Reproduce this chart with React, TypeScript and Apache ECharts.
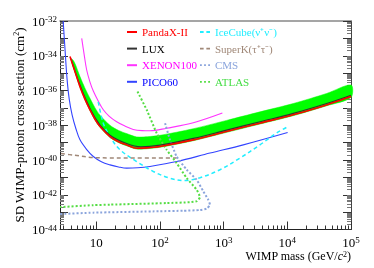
import React, { useEffect, useRef } from 'react';
import * as echarts from 'echarts';

const FONT = '"Liberation Serif", "Times New Roman", serif';

// log10(mass / GeV) and log10(sigma / cm^2)
const pandaxMass = [0.587, 0.66, 0.744, 0.82, 0.901, 0.98, 1.058, 1.215, 1.35, 1.477, 1.634, 1.8, 2.0, 2.523, 3.047, 3.57, 4.093, 4.617, 5.0];
const pandaxSigma = [-34.05, -34.85, -35.78, -36.48, -37.11, -37.66, -38.07, -38.65, -38.95, -39.13, -39.32, -39.3, -39.22, -38.84, -38.36, -37.88, -37.4, -36.83, -36.35];

const bandMass = [0.62, 0.66, 0.744, 0.82, 0.901, 0.98, 1.058, 1.215, 1.35, 1.477, 1.634, 1.8, 2.0, 2.523, 3.047, 3.57, 4.093, 4.617, 5.0];
const bandLow = [-34.45, -34.9, -35.83, -36.53, -37.16, -37.71, -38.12, -38.7, -39.0, -39.18, -39.37, -39.35, -39.27, -38.89, -38.41, -37.93, -37.45, -36.88, -36.4];
const bandHigh = [-34.2, -34.4, -35.2, -35.85, -36.45, -37.0, -37.42, -38.0, -38.3, -38.48, -38.67, -38.66, -38.58, -38.2, -37.72, -37.23, -36.75, -36.17, -35.68];

const luxMass = [0.6, 0.744, 0.901, 1.058, 1.215, 1.477, 1.7, 2.0, 2.523, 3.047, 3.57, 4.093, 4.617, 5.0];
const luxSigma = [-34.15, -35.7, -37.03, -37.99, -38.57, -39.05, -39.24, -39.14, -38.76, -38.28, -37.8, -37.32, -36.75, -36.27];

const xenonMass = [0.771, 0.81, 0.849, 0.9, 0.953, 1.03, 1.11, 1.2, 1.32, 1.45, 1.58, 1.72, 1.843, 2.105, 2.523, 2.98];
const xenonSigma = [-33.0, -33.95, -34.82, -35.5, -36.03, -36.6, -37.11, -37.47, -37.8, -38.05, -38.24, -38.31, -38.32, -38.17, -37.86, -37.3];

const picoMass = [0.48, 0.51, 0.54, 0.575, 0.62, 0.68, 0.744, 0.85, 0.953, 1.08, 1.215, 1.35, 1.477, 1.65, 1.843, 2.262, 2.786, 3.308, 4.005];
const picoSigma = [-32.0, -33.7, -35.3, -36.5, -37.4, -38.2, -38.84, -39.4, -39.8, -40.1, -40.28, -40.4, -40.47, -40.45, -40.37, -40.09, -39.6, -39.13, -38.42];

const iceMass = [1.031, 1.11, 1.215, 1.372, 1.634, 1.895, 2.157, 2.39, 2.628, 2.942, 3.256, 3.57, 3.832, 4.005];
const iceSigma = [-36.66, -37.88, -38.65, -39.41, -40.09, -40.66, -41.05, -41.18, -41.02, -40.56, -39.89, -39.13, -38.45, -38.09];

const superkMass = [0.446, 0.666, 0.953, 1.2, 1.477, 2.262];
const superkSigma = [-39.63, -39.73, -39.86, -39.88, -39.89, -39.89];

const cmsMass = [2.08, 2.157, 2.262, 2.419, 2.576, 2.68, 2.758, 2.785, 2.733, 2.628, 2.366, 2.0, 0.953, 0.43];
const cmsSigma = [-37.88, -38.84, -39.8, -40.56, -41.14, -41.8, -42.29, -42.57, -42.8, -42.88, -42.92, -42.95, -43.03, -43.11];

const atlasMass = [1.647, 1.791, 1.948, 2.105, 2.262, 2.419, 2.576, 2.628, 2.581, 2.471, 2.105, 1.215, 0.953, 0.43];
const atlasSigma = [-36.06, -37.11, -38.45, -39.41, -40.18, -41.04, -41.71, -42.14, -42.37, -42.43, -42.48, -42.57, -42.6, -42.71];

// axes (log10 space)
const X_MIN = 0.43;
const X_MAX = 5;
const Y_MIN = -44;
const Y_MAX = -32;
const xMajor = [1, 2, 3, 4, 5];
const yMajor = [-44, -43, -42, -41, -40, -39, -38, -37, -36, -35, -34, -33, -32];
const yLabels = [-44, -42, -40, -38, -36, -34, -32];

const minorOf = (from: number, to: number, lo: number, hi: number) => {
  const out: number[] = [];
  for (let d = from; d < to; d++) {
    for (let k = 2; k <= 9; k++) {
      const v = d + Math.log10(k);
      if (v > lo && v < hi) out.push(v);
    }
  }
  return out;
};
const xMinor = minorOf(0, 5, X_MIN, X_MAX);
const yMinor = minorOf(-44, -32, Y_MIN, Y_MAX);

const zip = (a: number[], b: number[]) => a.map((v, i) => [v, b[i]]);

const rich = {
  b: { fontSize: 13, fontFamily: FONT, color: '#000', lineHeight: 13 },
  s: { fontSize: 9, fontFamily: FONT, color: '#000', lineHeight: 9, verticalAlign: 'top' },
};

const ICON_SOLID = 'rect';
const ICON_DASH = 'path://M0,0h4v2h-4z M7,0h4v2h-4z';
const ICON_DOT = 'path://M0,0h2v2h-2z M4.5,0h2v2h-2z M9,0h2v2h-2z';

export default function App() {
  const ref = useRef<HTMLDivElement>(null);
  useEffect(() => {
    const chart = echarts.init(ref.current!, null, { renderer: 'svg' });
    const tickColor = '#333';
    const xBase = { type: 'value', min: X_MIN, max: X_MAX, splitLine: { show: false }, gridIndex: 0 };
    const yBase = { type: 'value', min: Y_MIN, max: Y_MAX, splitLine: { show: false }, gridIndex: 0 };
    const line = (name: string, m: number[], s: number[], color: string, width: number, type: any, z = 3, smooth: any = 0.35) => ({
      name,
      type: 'line',
      data: zip(m, s),
      symbol: 'none',
      smooth,
      z,
      lineStyle: { color, width, type },
      itemStyle: { color },
    });
    const legendBase = {
      orient: 'vertical',
      top: 25,
      padding: 0,
      itemWidth: 10,
      itemHeight: 2,
      itemGap: 2.6,
      selectedMode: false,
      itemStyle: { borderWidth: 0 },
      lineStyle: { width: 0 },
      textStyle: { fontFamily: FONT, fontSize: 11, lineHeight: 14 },
    };
    const option: any = {
      animation: false,
      grid: { left: 60, top: 21, width: 291, height: 208.5 },
      xAxis: [
        {
          ...xBase,
          position: 'bottom',
          axisLine: { show: true, lineStyle: { color: '#222', width: 1 } },
          axisTick: { show: true, inside: true, length: 8, customValues: xMajor, lineStyle: { color: tickColor } },
          axisLabel: {
            customValues: xMajor,
            margin: 6,
            formatter: (v: number) => {
              const n = Math.round(v);
              return n === 1 ? '{b|10}' : `{b|10}{s|${n}}`;
            },
            rich,
          },
        },
        {
          ...xBase,
          position: 'bottom',
          axisLine: { show: false },
          axisTick: { show: true, inside: true, length: 4, customValues: xMinor, lineStyle: { color: tickColor } },
          axisLabel: { show: false },
        },
        {
          ...xBase,
          position: 'top',
          axisLine: { show: true, lineStyle: { color: '#888', width: 1.5 } },
          axisTick: { show: false },
          axisLabel: { show: false },
        },
      ],
      yAxis: [
        {
          ...yBase,
          position: 'left',
          axisLine: { show: true, lineStyle: { color: '#222', width: 1 } },
          axisTick: { show: true, inside: true, length: 8, customValues: yMajor, lineStyle: { color: tickColor } },
          axisLabel: {
            customValues: yLabels,
            margin: 3,
            formatter: (v: number) => `{b|10}{s|${Math.round(v)}}`,
            rich,
          },
        },
        {
          ...yBase,
          position: 'left',
          axisLine: { show: false },
          axisTick: { show: true, inside: true, length: 4, customValues: yMinor, lineStyle: { color: '#777' } },
          axisLabel: { show: false },
        },
        {
          ...yBase,
          position: 'right',
          axisLine: { show: true, lineStyle: { color: '#444', width: 1 } },
          axisTick: { show: true, inside: true, length: 8, customValues: yMajor, lineStyle: { color: tickColor } },
          axisLabel: { show: false },
        },
        {
          ...yBase,
          position: 'right',
          axisLine: { show: false },
          axisTick: { show: true, inside: true, length: 4, customValues: yMinor, lineStyle: { color: '#777' } },
          axisLabel: { show: false },
        },
      ],
      legend: [
        {
          ...legendBase,
          left: 127,
          data: [
            { name: 'PandaX-II', icon: ICON_SOLID, textStyle: { color: '#ff0000' } },
            { name: 'LUX', icon: ICON_SOLID, textStyle: { color: '#000000' } },
            { name: 'XENON100', icon: ICON_SOLID, textStyle: { color: '#ff00ff' } },
            { name: 'PICO60', icon: ICON_SOLID, textStyle: { color: '#0000ff' } },
          ],
        },
        {
          ...legendBase,
          left: 200,
          data: [
            { name: 'IceCube(ν⁺ν⁻)', icon: ICON_DASH, textStyle: { color: '#22eeff' } },
            { name: 'SuperK(τ⁺τ⁻)', icon: ICON_DASH, textStyle: { color: '#a08878' } },
            { name: 'CMS', icon: ICON_DOT, textStyle: { color: '#8aa4dc' } },
            { name: 'ATLAS', icon: ICON_DOT, textStyle: { color: '#44dd44' } },
          ],
        },
      ],
      series: [
        {
          type: 'custom',
          name: 'band',
          z: 1,
          data: bandMass.map((m, i) => [m, bandLow[i], bandHigh[i]]),
          renderItem: (params: any, api: any) => {
            if (params.dataIndex !== 0) return null;
            const upper = bandMass.map((m, i) => api.coord([m, bandHigh[i]]));
            const lower = bandMass.map((m, i) => api.coord([m, bandLow[i]])).reverse();
            return {
              type: 'polygon',
              shape: { points: upper.concat(lower), smooth: 0.3 },
              style: { fill: '#00ff00', stroke: '#00ff00', lineWidth: 0.5 },
            };
          },
          silent: true,
        },
        line('PICO60', picoMass, picoSigma, '#3344ff', 1.1, 'solid'),
        line('XENON100', xenonMass, xenonSigma, '#ff33ff', 1.1, 'solid'),
        line('IceCube(ν⁺ν⁻)', iceMass, iceSigma, '#22eeff', 1.5, [4, 3]),
        line('SuperK(τ⁺τ⁻)', superkMass, superkSigma, '#a08878', 1.5, [4, 3]),
        line('CMS', cmsMass, cmsSigma, '#8aa4dc', 2, [2, 2], 4, 0.15),
        line('ATLAS', atlasMass, atlasSigma, '#55dd44', 2, [2, 2], 4, 0.15),
        line('LUX', luxMass, luxSigma, '#333333', 1.2, 'solid', 5),
        line('PandaX-II', pandaxMass, pandaxSigma, '#ff0000', 1.6, 'solid', 6),
      ],
      graphic: [
        {
          type: 'text',
          x: 19,
          y: 125,
          rotation: Math.PI / 2,
          style: {
            text: 'SD WIMP-proton cross section (cm{s|2})',
            fontFamily: FONT,
            fontSize: 13,
            fill: '#000',
            align: 'center',
            verticalAlign: 'middle',
            rich: { s: { fontSize: 8, fontFamily: FONT, verticalAlign: 'top', lineHeight: 8 } },
          },
        },
        {
          type: 'text',
          x: 351,
          y: 256,
          style: {
            text: 'WIMP mass (GeV/{i|c}{s|2})',
            fontFamily: FONT,
            fontSize: 12,
            fill: '#000',
            align: 'right',
            verticalAlign: 'middle',
            rich: {
              i: { fontSize: 12, fontFamily: FONT, fontStyle: 'italic', lineHeight: 12 },
              s: { fontSize: 8, fontFamily: FONT, verticalAlign: 'top', lineHeight: 8 },
            },
          },
        },
      ],
    };
    chart.setOption(option);
    return () => chart.dispose();
  }, []);
  return <div ref={ref} style={{ position: 'fixed', left: 0, top: 0, width: 374, height: 268 }} />;
}
